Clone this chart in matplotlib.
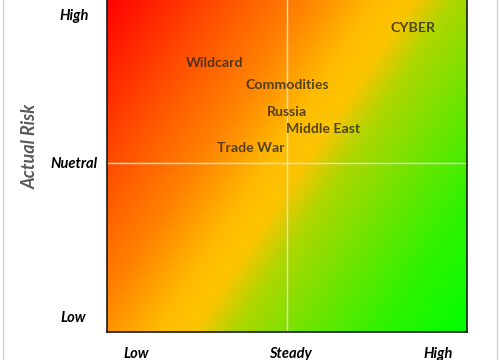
import numpy as np
import matplotlib.pyplot as plt
from matplotlib.colors import LinearSegmentedColormap
from matplotlib.lines import Line2D

plt.rcParams['font.family'] = ['Lato', 'DejaVu Sans']

# risk items placed on the matrix (x = likelihood/trend, y = actual risk)
risks = ['CYBER', 'Wildcard', 'Commodities', 'Russia', 'Middle East', 'Trade War']
risk_x = [8.5, 3.0, 5.0, 5.0, 6.0, 4.0]
risk_y = [9.0, 7.95, 7.3, 6.5, 6.0, 5.45]

x_tick_pos = [0.8, 5.1, 9.2]
x_tick_labels = ['Low', 'Steady', 'High']
y_tick_pos = [0.45, 5.0, 9.4]
y_tick_labels = ['Low', 'Nuetral', 'High']

fig = plt.figure(figsize=(5, 3.6), dpi=100)
ax = fig.add_axes([107/500, 28/360, 360/500, 338/360])

# diagonal red -> yellow -> green background
cmap = LinearSegmentedColormap.from_list('risk', [
    (0.0, '#ff0000'),
    (0.2, '#ff4e00'),
    (0.35, '#ff8400'),
    (0.47, '#ffbc00'),
    (0.53, '#fcc400'),
    (0.6, '#b0d600'),
    (0.72, '#70e400'),
    (0.85, '#30f200'),
    (1.0, '#00ff00'),
])
u, v = np.meshgrid(np.linspace(0, 1, 300), np.linspace(0, 1, 300))
t = 0.6165 * u + 0.3835 * (1 - v)
ax.imshow(t, cmap=cmap, origin='lower', extent=[0, 10, 0, 10],
          aspect='auto', vmin=0, vmax=1, interpolation='bilinear')

ax.axvline(5, color='#e0e0e0', lw=1)
ax.axhline(5, color='#e0e0e0', lw=1)

for name, x, y in zip(risks, risk_x, risk_y):
    ax.text(x, y, name, ha='center', va='center', fontsize=10.2,
            fontweight='bold', color='#2e2a20', alpha=0.82)

ax.set_xlim(0, 10)
ax.set_ylim(0, 10)
ax.set_xticks(x_tick_pos, x_tick_labels)
ax.set_yticks(y_tick_pos, y_tick_labels)
ax.tick_params(length=0, labelsize=10.5)
ax.tick_params(axis='x', pad=11)
ax.tick_params(axis='y', pad=24)
for lab in ax.get_xticklabels() + ax.get_yticklabels():
    lab.set_fontweight('bold')
    lab.set_fontstyle('italic')
for lab in ax.get_yticklabels():
    lab.set_horizontalalignment('center')

ax.set_ylabel('Actual Risk', fontsize=13, fontweight='bold',
              fontstyle='italic', color='#595959')
ax.yaxis.set_label_coords(-0.19, 0.55)

for side in ['left', 'bottom', 'right']:
    ax.spines[side].set_color('#1a1a1a')
    ax.spines[side].set_linewidth(1.2)
ax.spines['top'].set_visible(False)

# faint frame lines at the picture edges
fig.add_artist(Line2D([3/500, 3/500], [0, 1], color='#d4d4d4', lw=1))
fig.add_artist(Line2D([497/500, 497/500], [0, 1], color='#d4d4d4', lw=1))

fig.savefig('out.png', dpi=100)
